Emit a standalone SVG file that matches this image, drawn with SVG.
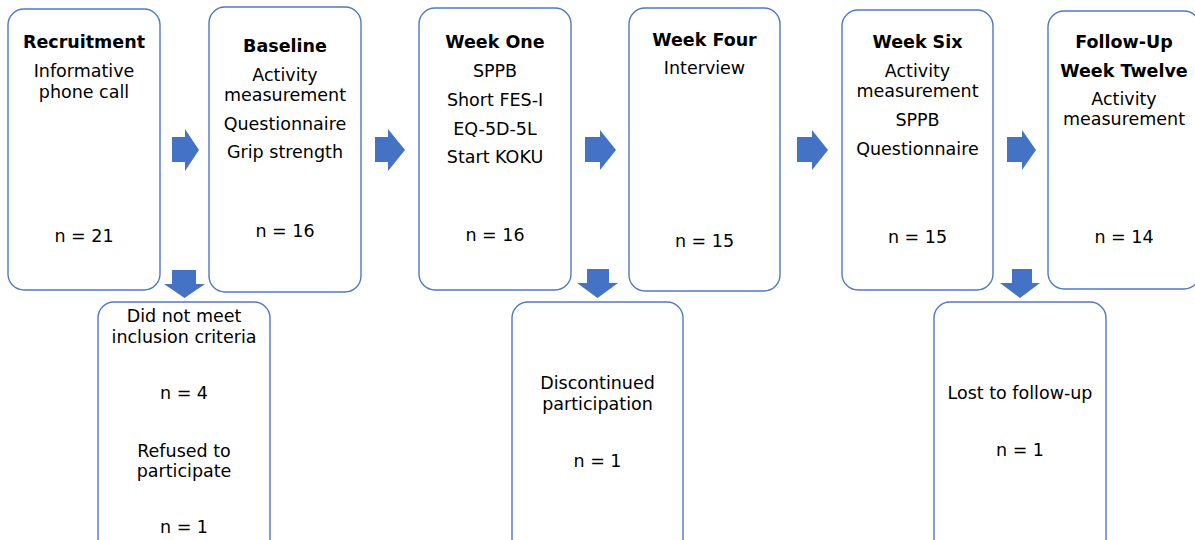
<svg xmlns="http://www.w3.org/2000/svg" width="1195" height="540" viewBox="0 0 1195 540">
<style>
.box{fill:#fff;stroke:#4F79C2;stroke-width:1.4}
.arr{fill:#4472C4}
text{font-family:"DejaVu Sans",Verdana,sans-serif;font-size:17.5px;fill:#000;text-anchor:middle}
.t{font-weight:bold}
</style>
<rect width="1195" height="540" fill="#fff"/>
<g id="connectors">
<path class="arr" d="M172,137 H185 V129 L199,150 L185,171 V162 H172 Z"/>
<path class="arr" d="M375,137 H388 V129 L405,150 L388,171 V162 H375 Z"/>
<path class="arr" d="M585,137 H600 V130 L616,150 L600,170 V162 H585 Z"/>
<path class="arr" d="M797,137 H812 V130 L828,150 L812,170 V162 H797 Z"/>
<path class="arr" d="M1007,137 H1022 V130 L1036,150 L1022,170 V162 H1007 Z"/>
<path class="arr" d="M172,270 H196 V284 H205 L184.5,298 L164,284 H172 Z"/>
<path class="arr" d="M587,269 H609 V283 H618 L597.5,298 L577,283 H587 Z"/>
<path class="arr" d="M1012,269 H1032 V283 H1040 L1020,298 L1000,283 H1012 Z"/>
</g>
<g id="recruitment">
<rect class="box" x="8" y="9" width="152" height="281" rx="16"/>
<text class="t" x="84" y="48">Recruitment</text>
<text x="84" y="77">Informative</text>
<text x="84" y="98">phone call</text>
<text x="84" y="242">n = 21</text>
</g>
<g id="baseline">
<rect class="box" x="209" y="7" width="152" height="285" rx="16"/>
<text class="t" x="285" y="52">Baseline</text>
<text x="285" y="81">Activity</text>
<text x="285" y="101">measurement</text>
<text x="285" y="130">Questionnaire</text>
<text x="285" y="158">Grip strength</text>
<text x="285" y="237">n = 16</text>
</g>
<g id="week-one">
<rect class="box" x="419" y="8" width="152" height="282" rx="16"/>
<text class="t" x="495" y="48">Week One</text>
<text x="495" y="77">SPPB</text>
<text x="495" y="106">Short FES-I</text>
<text x="495" y="135">EQ-5D-5L</text>
<text x="495" y="163">Start KOKU</text>
<text x="495" y="241">n = 16</text>
</g>
<g id="week-four">
<rect class="box" x="629" y="8" width="151" height="283" rx="16"/>
<text class="t" x="704.5" y="46">Week Four</text>
<text x="704.5" y="74">Interview</text>
<text x="704.5" y="247">n = 15</text>
</g>
<g id="week-six">
<rect class="box" x="842" y="10" width="151" height="280" rx="16"/>
<text class="t" x="917.5" y="48">Week Six</text>
<text x="917.5" y="77">Activity</text>
<text x="917.5" y="97">measurement</text>
<text x="917.5" y="126">SPPB</text>
<text x="917.5" y="155">Questionnaire</text>
<text x="917.5" y="243">n = 15</text>
</g>
<g id="follow-up">
<rect class="box" x="1048" y="11" width="152" height="278" rx="16"/>
<text class="t" x="1124" y="48">Follow-Up</text>
<text class="t" x="1124" y="77">Week Twelve</text>
<text x="1124" y="105">Activity</text>
<text x="1124" y="125">measurement</text>
<text x="1124" y="243">n = 14</text>
</g>
<g id="excluded">
<rect class="box" x="98" y="302" width="172" height="260" rx="16"/>
<text x="184" y="322">Did not meet</text>
<text x="184" y="343">inclusion criteria</text>
<text x="184" y="399">n = 4</text>
<text x="184" y="457">Refused to</text>
<text x="184" y="477">participate</text>
<text x="184" y="533">n = 1</text>
</g>
<g id="discontinued">
<rect class="box" x="512" y="302" width="171" height="260" rx="16"/>
<text x="597.5" y="389">Discontinued</text>
<text x="597.5" y="410">participation</text>
<text x="597.5" y="467">n = 1</text>
</g>
<g id="lost">
<rect class="box" x="934" y="302" width="172" height="260" rx="16"/>
<text x="1020" y="399">Lost to follow-up</text>
<text x="1020" y="456">n = 1</text>
</g>
</svg>
